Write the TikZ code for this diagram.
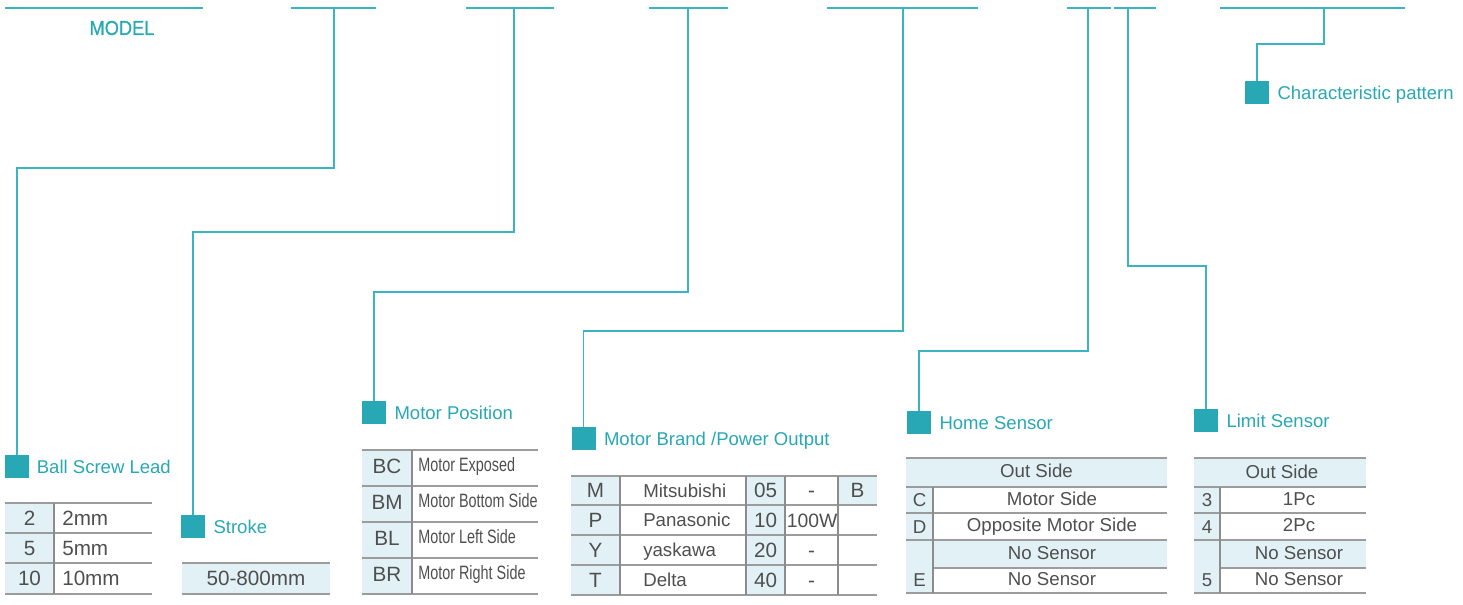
\documentclass[tikz,border=0pt]{standalone}
\usepackage{fontspec}
\setmainfont{Liberation Sans}
\newfontfamily\condfont[FakeStretch=0.745]{Liberation Sans}
\newfontfamily\modelfont[FakeStretch=0.9,FakeBold=0.6]{Liberation Sans}
\definecolor{teal1}{HTML}{27A8B4}
\definecolor{line1}{HTML}{3BB4C1}
\definecolor{cellfill}{HTML}{E1F1F6}
\definecolor{grid}{HTML}{9C9C9C}
\definecolor{vgrid}{HTML}{8C8C8C}
\definecolor{txt}{HTML}{4F4F4F}
\begin{document}
\begin{tikzpicture}[x=0.75pt,y=-0.75pt,
 topline/.style={draw=line1, line width=1.5pt},
 conn/.style={draw=line1, line width=1.1pt},
 sq/.style={fill=teal1, minimum width=18pt, minimum height=17.5pt, inner sep=0pt},
 lbl/.style={anchor=west, text=teal1, font=\fontsize{13.9}{16}\selectfont, inner sep=0pt, text height=10pt, text depth=0pt},
 hline/.style={draw=grid, line width=1.5pt},
 vline/.style={draw=vgrid, line width=1.1pt},
 code/.style={text=txt, font=\fontsize{15.5}{18}\selectfont, inner sep=0pt, text height=11pt, text depth=0pt},
 cell/.style={text=txt, font=\fontsize{14}{16}\selectfont, inner sep=0pt, text height=10pt, text depth=0pt},
 cond/.style={text=txt, font=\condfont\fontsize{14.5}{17}\selectfont, inner sep=0pt, text height=10.4pt, text depth=0pt, anchor=west},
]
\useasboundingbox (0,0) rectangle (1463,604);

% ---- top lines ----
\draw[topline] (5,8) -- (203,8);
\node[text=teal1, font=\modelfont\fontsize{15.2}{18}\selectfont, inner sep=0pt] (model) at (122,28) {MODEL};
\draw[topline] (291,8) -- (376,8);
\draw[topline] (466,8) -- (554,8);
\draw[topline] (649,8) -- (728,8);
\draw[topline] (827,8) -- (978,8);
\draw[topline] (1067,8) -- (1111,8);
\draw[topline] (1114,8) -- (1156,8);
\draw[topline] (1220,8) -- (1405,8);
\coordinate (t1) at (334,8);
\coordinate (t2) at (514,8);
\coordinate (t3) at (688,8);
\coordinate (t4) at (903,8);
\coordinate (t5) at (1088,8);
\coordinate (t6) at (1128,8);
\coordinate (t7) at (1324,8);

% ---- squares and labels ----
\node[sq] (s1) at (17,466.5) {};
\node[lbl] (l1) at ([xshift=5.5pt]s1.east) {Ball Screw Lead};
\node[sq] (s2) at (193,526.5) {};
\node[lbl] (l2) at ([xshift=6pt]s2.east) {Stroke};
\node[sq] (s3) at (374,412.5) {};
\node[lbl] (l3) at ([xshift=6pt]s3.east) {Motor Position};
\node[sq] (s4) at (583.5,438.5) {};
\node[lbl] (l4) at ([xshift=6pt]s4.east) {Motor Brand /Power Output};
\node[sq] (s5) at (919,422.5) {};
\node[lbl] (l5) at ([xshift=6pt]s5.east) {Home Sensor};
\node[sq] (s6) at (1206,420.5) {};
\node[lbl] (l6) at ([xshift=6pt]s6.east) {Limit Sensor};
\node[sq] (s7) at (1257,92.5) {};
\node[lbl] (l7) at ([xshift=6pt]s7.east) {Characteristic pattern};

% ---- connectors ----
\draw[conn] (t1) -- (334,168) -| (s1.north);
\draw[conn] (t2) -- (514,232) -| (s2.north);
\draw[conn] (t3) -- (688,292) -| (s3.north);
\draw[conn] (t4) -- (903,331) -| (s4.north);
\draw[conn] (t5) -- (1088,351) -| (s5.north);
\draw[conn] (t6) -- (1128,266) -| (s6.north);
\draw[conn] (t7) -- (1324,44) -| (s7.north);

% ---- Ball screw lead table ----
\fill[cellfill] (5,503) rectangle (54,594);
\foreach \y in {503,533,563,594} \draw[hline] (5,\y) -- (152,\y);
\draw[vline] (54,503) -- (54,594);
\node[code] (b1) at (29.5,518) {2};
\node[code,anchor=west] (b1v) at (62,518) {2mm};
\node[code] (b2) at (29.5,548) {5};
\node[code,anchor=west] (b2v) at (62,548) {5mm};
\node[code] (b3) at (29.5,578.5) {10};
\node[code,anchor=west] (b3v) at (62,578.5) {10mm};

% ---- Stroke table ----
\fill[cellfill] (182,563) rectangle (330,594);
\draw[hline] (182,563) -- (330,563);
\draw[hline] (182,594) -- (330,594);
\node[code] (st) at (256,578.5) {50-800mm};

% ---- Motor position table ----
\fill[cellfill] (362,450) rectangle (412,594);
\foreach \y in {450,486,522,558,594} \draw[hline] (362,\y) -- (538,\y);
\draw[vline] (412,450) -- (412,594);
\node[code] (p1) at (387,466) {BC};
\node[cond] (p1v) at (418,465) {Motor Exposed};
\node[code] (p2) at (387,502) {BM};
\node[cond] (p2v) at (418,501) {Motor Bottom Side};
\node[code] (p3) at (387,538) {BL};
\node[cond] (p3v) at (418,537) {Motor Left Side};
\node[code] (p4) at (387,574) {BR};
\node[cond] (p4v) at (418,573) {Motor Right Side};

% ---- Motor brand table ----
\fill[cellfill] (571,476) rectangle (620,595);
\fill[cellfill] (746,476) rectangle (785,595);
\fill[cellfill] (838,476) rectangle (877,505);
\foreach \y in {476,505,535,565,595} \draw[hline] (571,\y) -- (877,\y);
\foreach \x in {620,746,785,838} \draw[vline] (\x,476) -- (\x,595);
\node[code] (m1) at (595.5,490.5) {M};
\node[cell,anchor=west] (m1b) at (643,490.5) {Mitsubishi};
\node[code] (m1n) at (765.5,490.5) {05};
\node[code] (m1p) at (811.5,490.5) {-};
\node[code] (m1x) at (857.5,490.5) {B};
\node[code] (m2) at (595.5,520) {P};
\node[cell,anchor=west] (m2b) at (643,520) {Panasonic};
\node[code] (m2n) at (765.5,520) {10};
\node[code,font=\fontsize{14.5}{17}\selectfont] (m2p) at (812,520) {100W};
\node[code] (m3) at (595.5,550) {Y};
\node[cell,anchor=west] (m3b) at (643,550) {yaskawa};
\node[code] (m3n) at (765.5,550) {20};
\node[code] (m3p) at (811.5,550) {-};
\node[code] (m4) at (595.5,580) {T};
\node[cell,anchor=west] (m4b) at (643,580) {Delta};
\node[code] (m4n) at (765.5,580) {40};
\node[code] (m4p) at (811.5,580) {-};

% ---- Home sensor table ----
\fill[cellfill] (906,458) rectangle (1167,487);
\fill[cellfill] (906,487) rectangle (933,593);
\fill[cellfill] (933,540) rectangle (1167,568);
\foreach \y in {458,487,513,540,593} \draw[hline] (906,\y) -- (1167,\y);
\draw[hline] (933,568) -- (1167,568);
\draw[vline] (933,487) -- (933,593);
\node[cell] (h0) at (1036.5,471) {Out Side};
\node[cell] (h1) at (919.5,500) {C};
\node[cell] (h1v) at (1052,498.5) {Motor Side};
\node[cell] (h2) at (919.5,527) {D};
\node[cell] (h2v) at (1052,525) {Opposite Motor Side};
\node[cell] (h3v) at (1052,553) {No Sensor};
\node[cell] (h3) at (919.5,580) {E};
\node[cell] (h4v) at (1052,579) {No Sensor};

% ---- Limit sensor table ----
\fill[cellfill] (1194,458) rectangle (1366,487);
\fill[cellfill] (1194,487) rectangle (1220,593);
\fill[cellfill] (1220,540) rectangle (1366,568);
\foreach \y in {458,487,513,540,593} \draw[hline] (1194,\y) -- (1366,\y);
\draw[hline] (1220,568) -- (1366,568);
\draw[vline] (1220,487) -- (1220,593);
\node[cell] (g0) at (1282,472) {Out Side};
\node[cell] (g1) at (1207,500) {3};
\node[cell] (g1v) at (1299,498.5) {1Pc};
\node[cell] (g2) at (1207,527) {4};
\node[cell] (g2v) at (1299,525) {2Pc};
\node[cell] (g3v) at (1299,553) {No Sensor};
\node[cell] (g3) at (1207,580) {5};
\node[cell] (g4v) at (1299,579) {No Sensor};
\end{tikzpicture}
\end{document}
